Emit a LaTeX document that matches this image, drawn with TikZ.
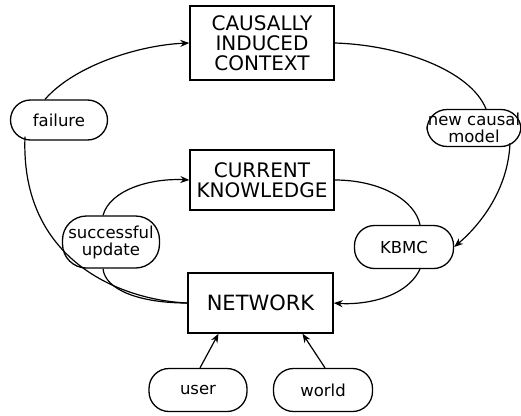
\documentclass[tikz,border=0pt]{standalone}
\usepackage{fontspec}
\setmainfont{DejaVu Sans}
\usetikzlibrary{arrows.meta,calc}
\begin{document}
\begin{tikzpicture}[x=1pt,y=-1pt,
  box/.style={draw,line width=1.4pt,inner sep=0pt,align=center,font=\fontsize{20}{20}\selectfont},
  pill/.style={draw,line width=1.3pt,inner sep=0pt,align=center,rounded corners=20pt,font=\fontsize{16.5}{17}\selectfont},
  conn/.style={line width=1.2pt},
  arr/.style={conn,-{Stealth[length=9pt,width=7pt]}}]
\useasboundingbox (0,0) rectangle (521,415);
\node[box,minimum width=144pt,minimum height=74pt] (cic) at (262,43) {CAUSALLY\\INDUCED\\CONTEXT};
\node[box,minimum width=144pt,minimum height=60pt] (ck) at (262,180) {CURRENT\\KNOWLEDGE};
\node[box,minimum width=145pt,minimum height=60pt,font=\fontsize{21}{21}\selectfont] (net) at (260.5,303) {NETWORK};
\node[pill,minimum width=97pt,minimum height=40pt] (fail) at (59,120) {failure};
\node[pill,minimum width=94pt,minimum height=37pt] (ncm) at (474,128) {new causal\\model};
\node[pill,minimum width=97pt,minimum height=52pt,rounded corners=24pt] (su) at (111,242) {successful\\update};
\node[pill,minimum width=99pt,minimum height=43pt] (kbmc) at (404,247) {KBMC};
\node[pill,minimum width=98pt,minimum height=43pt] (user) at (198,390) {user};
\node[pill,minimum width=99pt,minimum height=43pt] (world) at (323,390) {world};
% outer loop
\draw[arr] ($(fail.north)+(-14,0)$) .. controls (75,65) and (140,45) .. (cic.west);
\draw[conn] (cic.east) .. controls (400,45) and (470,70) .. ($(ncm.north)+(12,0)$);
\draw[arr] ($(ncm.south)+(36,-4)$) .. controls (508,190) and (480,225) .. (kbmc.east);
\draw[conn] ($(fail.south)+(-34,-4)$) .. controls (20,260) and (120,300) .. (net.west);
% inner loop
\draw[conn] (ck.east) .. controls (380,180) and (415,200) .. ($(kbmc.north)+(16,0)$);
\draw[arr] ($(kbmc.south)+(16,0)$) .. controls (405,300) and (360,305) .. (net.east);
\draw[conn] (net.west) .. controls (140,303) and (105,290) .. ($(su.south)+(-8,0)$);
\draw[arr] ($(su.north)+(-8,0)$) .. controls (110,190) and (150,178) .. (ck.west);
% inputs
\draw[arr] ($(user.north)+(2,0)$) -- ($(net.south)+(-42,0)$);
\draw[arr] ($(world.north)+(2,0)$) -- ($(net.south)+(42,0)$);
\end{tikzpicture}
\end{document}
